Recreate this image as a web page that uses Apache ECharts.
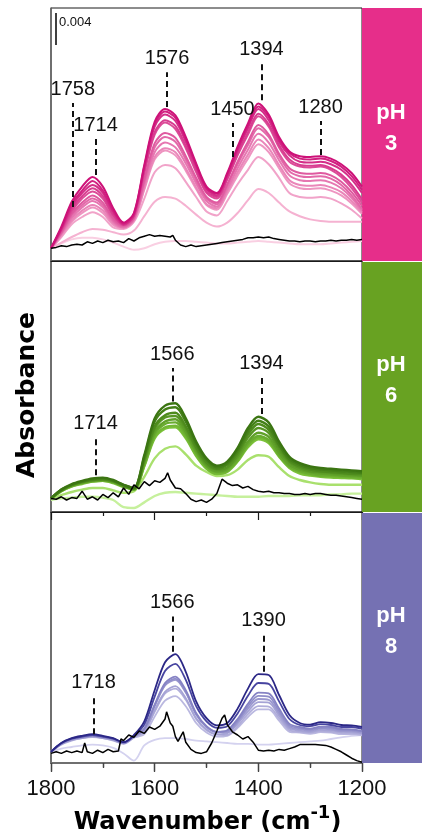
<!DOCTYPE html>
<html>
<head>
<meta charset="utf-8">
<title>IR spectra at pH 3, 6 and 8</title>
<script src="https://cdn.jsdelivr.net/npm/echarts/dist/echarts.min.js"></script>
<style>
  html, body { margin: 0; padding: 0; background: #ffffff; }
  #chart { width: 422px; height: 832px; }
</style>
</head>
<body>
<div id="chart"></div>
<script>
// Absorbance values are stored in units of 10^-3 (mAbs).
const wavenumbers = [1800,1780,1760,1740,1720,1700,1680,1660,1640,1620,1600,1580,1560,1540,1520,1500,1480,1460,1440,1420,1400,1380,1360,1340,1320,1300,1280,1260,1240,1220,1200];

// pH 3 spectra, latest (darkest) first
const ph3Spectra = [
  [1.6,4.3,7.4,9.3,10.5,9.3,6.6,4.8,6.0,12.0,17.4,19.0,18.2,15.5,12.2,9.3,8.5,11.0,14.3,17.2,19.7,18.3,15.5,13.7,13.1,13.0,13.1,12.8,12.1,11.0,9.3],
  [1.6,4.1,7.1,8.8,10.0,8.8,6.3,4.7,5.9,11.8,17.1,18.7,17.9,15.2,12.0,9.1,8.4,10.8,14.0,16.9,19.3,18.0,15.2,13.5,12.8,12.7,12.8,12.5,11.8,10.6,8.9],
  [1.6,4.0,6.8,8.5,9.5,8.5,6.1,4.6,5.7,11.6,16.8,18.3,17.5,14.9,11.8,9.0,8.2,10.6,13.8,16.6,19.0,17.6,14.9,13.2,12.4,12.3,12.4,12.1,11.4,10.2,8.5],
  [1.6,3.9,6.5,8.1,9.1,8.1,5.8,4.5,5.7,11.2,16.1,17.6,16.9,14.4,11.4,8.7,8.0,10.3,13.4,16.1,18.4,17.1,14.5,12.7,12.0,11.9,12.0,11.6,10.8,9.5,7.7],
  [1.6,3.8,6.2,7.8,8.7,7.8,5.6,4.5,5.6,11.0,15.8,17.3,16.5,14.1,11.1,8.5,7.8,10.2,13.2,15.8,18.1,16.8,14.2,12.4,11.8,11.7,11.8,11.4,10.5,9.1,7.3],
  [1.6,3.6,5.9,7.3,8.2,7.3,5.3,4.4,5.4,10.2,14.7,16.0,15.4,13.1,10.4,8.0,7.3,9.6,12.4,14.9,17.0,15.8,13.4,11.6,11.0,10.9,11.0,10.7,9.9,8.6,6.9],
  [1.6,3.5,5.7,7.0,7.8,7.0,5.1,4.3,5.3,9.9,14.2,15.5,14.9,12.7,10.1,7.8,7.1,9.4,12.1,14.5,16.6,15.5,13.1,11.2,10.6,10.5,10.6,10.3,9.5,8.2,6.5],
  [1.6,3.4,5.4,6.7,7.5,6.7,4.9,4.2,5.2,9.5,13.6,14.8,14.2,12.2,9.7,7.5,6.8,9.0,11.6,13.9,15.9,14.8,12.6,10.7,10.1,10.0,10.1,9.8,9.1,7.9,6.3],
  [1.6,3.3,5.1,6.3,7.0,6.3,4.7,4.2,5.1,9.1,13.0,14.1,13.6,11.6,9.2,7.1,6.6,8.7,11.1,13.3,15.2,14.1,12.0,10.1,9.5,9.4,9.5,9.2,8.6,7.5,6.1],
  [1.6,3.1,4.9,6.0,6.7,6.0,4.5,4.1,5.0,8.9,12.7,13.8,13.2,11.3,9.0,7.0,6.4,8.4,10.7,12.8,14.6,13.6,11.6,9.7,9.1,9.0,9.1,8.8,8.2,7.2,5.9],
  [1.6,3.0,4.6,5.5,6.1,5.5,4.2,4.0,4.9,7.8,11.1,12.0,11.6,9.9,8.0,6.2,5.7,7.5,9.6,11.4,13.0,12.1,10.4,8.5,8.0,7.9,8.0,7.8,7.2,6.4,5.3],
  [1.6,2.3,3.0,3.6,4.0,3.9,3.6,3.3,3.8,5.6,7.4,8.0,7.8,6.9,5.8,4.8,4.3,4.8,6.0,7.6,9.0,8.5,7.3,6.2,5.6,5.2,5.0,4.9,4.9,4.9,4.9],
  [1.6,2.2,2.7,2.9,2.9,2.7,2.3,1.8,1.4,1.6,2.1,2.4,2.5,2.5,2.4,2.3,2.2,2.2,2.3,2.4,2.5,2.4,2.3,2.2,2.1,2.1,2.1,2.2,2.3,2.4,2.5]
];
const ph3Control = [[1800,1.6],[1790,1.7],[1780,1.9],[1770,1.8],[1760,2.0],[1750,2.1],[1740,2.0],[1730,2.4],[1720,2.2],[1710,2.5],[1700,2.3],[1690,2.6],[1680,2.4],[1670,2.5],[1660,2.3],[1650,2.8],[1640,2.5],[1630,2.9],[1620,3.1],[1610,3.3],[1600,3.1],[1590,3.2],[1580,3.1],[1570,3.0],[1565,3.2],[1560,2.6],[1550,2.0],[1540,1.8],[1530,2.0],[1520,1.8],[1510,1.9],[1500,2.0],[1490,2.1],[1480,2.2],[1470,2.3],[1460,2.4],[1450,2.5],[1440,2.6],[1430,2.7],[1420,2.9],[1410,2.9],[1400,3.0],[1390,2.9],[1380,3.0],[1370,2.8],[1360,2.7],[1350,2.6],[1340,2.5],[1330,2.5],[1320,2.4],[1310,2.5],[1300,2.5],[1290,2.4],[1280,2.5],[1270,2.5],[1260,2.6],[1250,2.5],[1240,2.6],[1230,2.6],[1220,2.7],[1210,2.6],[1200,2.7]];
const ph3Peaks = [1758, 1714, 1576, 1450, 1394, 1280];

// pH 6 spectra, latest (darkest) first
const ph6Spectra = [
  [1.7,2.8,3.5,3.9,4.2,4.3,4.0,3.4,3.0,7.1,11.7,13.3,13.6,11.7,8.8,6.7,5.8,6.3,8.0,10.5,11.9,11.2,8.8,6.9,6.1,5.7,5.5,5.4,5.3,5.2,5.1],
  [1.7,2.8,3.4,3.8,4.1,4.2,3.9,3.4,3.0,6.9,11.3,12.8,13.1,11.3,8.5,6.5,5.6,6.1,7.7,10.1,11.4,10.7,8.4,6.6,5.9,5.5,5.3,5.2,5.1,5.0,4.9],
  [1.7,2.7,3.4,3.8,4.0,4.1,3.9,3.3,2.9,6.6,10.7,12.1,12.4,10.7,8.1,6.2,5.4,5.9,7.4,9.7,11.0,10.3,8.2,6.4,5.7,5.3,5.1,5.0,4.9,4.8,4.8],
  [1.7,2.7,3.4,3.7,4.0,4.1,3.8,3.3,2.9,6.4,10.4,11.8,12.0,10.4,7.9,6.0,5.3,5.6,7.1,9.3,10.5,9.9,7.8,6.2,5.5,5.1,5.0,4.9,4.8,4.7,4.6],
  [1.7,2.7,3.3,3.7,3.9,4.0,3.8,3.2,2.9,6.2,10.0,11.3,11.6,10.0,7.6,5.8,5.1,5.4,6.8,8.8,9.9,9.4,7.4,5.9,5.3,5.0,4.8,4.7,4.6,4.55,4.5],
  [1.7,2.7,3.3,3.6,3.9,4.0,3.7,3.2,2.8,6.0,9.7,11.0,11.2,9.7,7.4,5.7,5.0,5.2,6.5,8.5,9.5,9.0,7.1,5.7,5.1,4.8,4.6,4.6,4.5,4.4,4.3],
  [1.7,2.6,3.2,3.6,3.8,3.9,3.7,3.2,2.8,5.8,9.4,10.6,10.8,9.4,7.1,5.5,4.8,5.1,6.4,8.3,9.3,8.8,7.0,5.6,5.0,4.7,4.5,4.45,4.4,4.3,4.2],
  [1.7,2.6,3.2,3.5,3.8,3.9,3.6,3.1,2.8,5.7,9.2,10.4,10.6,9.2,7.0,5.4,4.75,5.0,6.3,8.1,9.1,8.6,6.9,5.5,4.8,4.55,4.4,4.3,4.25,4.2,4.1],
  [1.7,2.1,2.5,2.8,3.0,3.0,2.7,2.4,2.6,4.4,6.7,7.9,8.2,7.2,5.8,5.0,4.5,4.6,5.3,6.5,7.1,6.9,5.6,4.5,4.0,3.7,3.5,3.4,3.4,3.4,3.4],
  [1.5,1.7,1.8,1.9,1.9,1.8,1.5,0.6,0.5,1.2,2.0,2.4,2.5,2.4,2.3,2.2,2.1,2.0,1.9,1.9,1.9,2.0,2.0,2.0,2.1,2.1,2.1,2.2,2.2,2.3,2.3]
];
const ph6Control = [[1800,1.7],[1790,1.6],[1780,1.9],[1770,1.5],[1760,1.8],[1750,1.7],[1740,2.6],[1730,1.6],[1720,1.9],[1710,1.5],[1700,2.2],[1690,1.8],[1680,2.4],[1670,1.9],[1660,3.0],[1650,2.2],[1640,3.4],[1630,2.9],[1620,3.8],[1610,3.3],[1600,3.9],[1590,3.7],[1580,4.2],[1575,4.9],[1570,4.0],[1560,3.0],[1550,2.9],[1540,2.3],[1530,1.6],[1520,1.3],[1510,1.5],[1500,1.2],[1490,1.6],[1480,2.3],[1470,4.1],[1460,3.6],[1450,3.3],[1440,3.4],[1430,3.0],[1420,3.2],[1410,2.8],[1400,2.6],[1390,2.5],[1380,2.6],[1370,2.4],[1360,2.4],[1350,2.3],[1340,2.3],[1330,2.2],[1320,2.2],[1310,2.3],[1300,2.2],[1290,2.3],[1280,2.3],[1270,2.2],[1260,2.1],[1250,2.1],[1240,2.0],[1230,1.9],[1220,1.8],[1210,1.7],[1200,1.6]];
const ph6Peaks = [1714, 1566, 1394];

// pH 8 spectra, latest (darkest) first
const ph8Spectra = [
  [1.4,2.5,3.1,3.4,3.6,3.4,3.1,2.6,3.5,5.2,9.1,12.6,13.6,11.4,7.7,5.6,4.7,5.0,6.8,9.3,11.1,11.0,8.5,6.0,5.0,4.8,5.1,5.0,4.75,4.7,4.5],
  [1.4,2.5,3.05,3.3,3.5,3.3,3.05,2.6,3.4,4.8,8.3,11.5,12.4,10.4,7.1,5.2,4.4,4.6,6.2,8.4,10.0,9.9,7.7,5.5,4.75,4.6,4.85,4.75,4.5,4.5,4.3],
  [1.4,2.4,3.0,3.3,3.5,3.3,3.0,2.5,3.4,4.3,7.3,10.0,10.8,9.1,6.25,4.6,3.9,4.1,5.5,7.4,8.8,8.7,6.8,4.9,4.5,4.3,4.55,4.5,4.25,4.2,4.0],
  [1.4,2.4,3.0,3.2,3.4,3.2,3.0,2.5,3.3,4.25,7.2,9.8,10.55,8.9,6.1,4.55,3.9,4.0,5.3,7.1,8.4,8.3,6.5,4.7,4.35,4.2,4.4,4.35,4.15,4.1,3.95],
  [1.4,2.4,2.9,3.2,3.4,3.2,2.9,2.5,3.3,4.2,7.1,9.7,10.4,8.8,6.1,4.5,3.85,3.85,5.1,6.8,8.0,7.9,6.2,4.5,4.2,4.05,4.3,4.2,4.0,4.0,3.8],
  [1.4,2.4,2.9,3.15,3.3,3.15,2.9,2.45,3.25,3.95,6.6,8.9,9.6,8.1,5.6,4.2,3.6,3.7,4.9,6.45,7.6,7.55,5.9,4.3,4.05,3.9,4.15,4.05,3.9,3.85,3.7],
  [1.4,2.35,2.85,3.1,3.3,3.1,2.85,2.45,3.2,3.9,6.4,8.7,9.3,7.9,5.5,4.1,3.55,3.5,4.6,6.1,7.1,7.05,5.6,4.1,3.9,3.8,4.0,3.9,3.75,3.7,3.6],
  [1.4,2.3,2.8,3.1,3.25,3.1,2.8,2.4,3.15,3.6,5.8,7.8,8.35,7.1,5.0,3.8,3.3,3.4,4.4,5.75,6.7,6.7,5.3,3.9,3.8,3.65,3.85,3.8,3.6,3.6,3.45],
  [1.4,1.8,2.0,2.2,2.3,2.2,1.9,1.2,0.3,2.2,2.9,3.1,3.1,3.0,2.8,2.7,2.6,2.5,2.4,2.4,2.3,2.3,2.4,2.5,2.6,2.7,2.8,3.0,3.2,3.4,3.5]
];
const ph8Control = [[1800,1.2],[1790,1.4],[1780,1.2],[1770,1.5],[1760,1.3],[1750,1.5],[1740,1.3],[1735,2.5],[1730,1.4],[1720,1.2],[1710,1.6],[1700,1.3],[1690,1.7],[1680,1.4],[1670,1.5],[1665,3.0],[1660,2.8],[1650,3.5],[1640,3.2],[1630,4.0],[1620,3.7],[1610,4.5],[1600,4.2],[1590,4.6],[1580,5.5],[1577,6.4],[1570,5.0],[1565,4.6],[1560,3.3],[1555,2.7],[1550,3.3],[1545,3.9],[1540,2.6],[1530,1.7],[1520,1.3],[1510,1.2],[1500,1.4],[1490,2.5],[1480,4.0],[1470,5.6],[1465,6.0],[1460,4.8],[1450,3.9],[1440,3.5],[1430,3.0],[1420,3.3],[1410,2.6],[1400,1.6],[1390,1.5],[1380,1.6],[1370,1.5],[1360,1.7],[1350,1.6],[1340,1.8],[1330,2.0],[1320,2.3],[1310,2.3],[1300,2.3],[1290,2.3],[1280,2.25],[1270,2.2],[1260,2.0],[1250,1.7],[1240,1.4],[1230,1.0],[1220,0.6],[1210,0.3],[1200,0.1]];
const ph8Peaks = [1718, 1566, 1390];

const panelLabels = ['pH\n3', 'pH\n6', 'pH\n8'];
const xTickLabels = [1800, 1600, 1400, 1200];
const scaleBarValue = 4;      // 0.004 absorbance
const scaleBarPosition = 1790; // wavenumber of the scale bar

// ---- layout and styles ----
const layout = {
  left: 51, plotWidth: 311, barWidth: 60, pxPerUnit: 8,
  panels: [{ top: 8, height: 253 }, { top: 261, height: 251 }, { top: 512, height: 251 }],
  // vertical extent (in absorbance units) of the dashed peak markers
  dashSpans: [
    [[6.75, 19.75], [10.75, 15.25], [19.25, 23.6], [13.0, 17.25], [20.1, 24.75], [13.25, 17.5]],
    [[4.6, 9.3], [13.8, 18.0], [12.25, 16.8]],
    [[3.6, 8.3], [13.9, 18.3], [11.4, 16.1]]
  ],
  scaleBarTop: 31.0
};
const barColors = ['#e62e8a', '#68a222', '#7571b3'];

function hexToRgb(h) {
  const n = parseInt(h.slice(1), 16);
  return [(n >> 16) & 255, (n >> 8) & 255, n & 255];
}
function mix(a, b, t) {
  const A = hexToRgb(a), B = hexToRgb(b);
  const c = A.map((v, i) => Math.round(v + (B[i] - v) * t));
  return 'rgb(' + c.join(',') + ')';
}
function ramp(dark, light, n) {
  const out = [];
  for (let i = 0; i < n; i++) out.push(mix(dark, light, n === 1 ? 0 : i / (n - 1)));
  return out;
}
const palettes = [
  ramp('#cd1178', '#f5b2d1', 12).concat(['#f9cfe2']),
  ramp('#3b7512', '#7cc23a', 8).concat(['#a9e06d', '#c6f09c']),
  ['#2b2786', '#4744a0'].concat(ramp('#8683c4', '#bab8e0', 6)).concat(['#d4d2ef'])
];
const lineWidths = [2.0, 2.4, 1.8];

const spectraSets = [ph3Spectra, ph6Spectra, ph8Spectra];
const controlSets = [ph3Control, ph6Control, ph8Control];
const peakSets = [ph3Peaks, ph6Peaks, ph8Peaks];

const labelFont = 'Liberation Sans, Arial, Helvetica, sans-serif';
const titleFont = 'DejaVu Sans, Verdana, sans-serif';

const grids = layout.panels.map(p => ({
  left: layout.left, top: p.top, width: layout.plotWidth, height: p.height,
  show: true, borderColor: '#1a1a1a', borderWidth: 1, containLabel: false
}));

const baseX = {
  type: 'value', min: 1200, max: 1800, interval: 200, inverse: true,
  splitLine: { show: false }, axisLabel: { show: false }
};
const xAxes = [
  Object.assign({}, baseX, { gridIndex: 0, position: 'top',
    axisLine: { show: true, lineStyle: { color: '#1a1a1a', width: 1 } }, axisTick: { show: false } }),
  Object.assign({}, baseX, { gridIndex: 1, position: 'top',
    axisLine: { show: true, lineStyle: { color: '#1a1a1a', width: 1.2 } },
    axisTick: { show: true, inside: true, length: 8, lineStyle: { color: '#1a1a1a', width: 1.2 } },
    minorTick: { show: true, splitNumber: 2, length: 4, lineStyle: { color: '#1a1a1a', width: 1.2 } } }),
  Object.assign({}, baseX, { gridIndex: 2, position: 'top',
    axisLine: { show: true, lineStyle: { color: '#1a1a1a', width: 1.2 } },
    axisTick: { show: true, inside: true, length: 8, lineStyle: { color: '#1a1a1a', width: 1.2 } },
    minorTick: { show: true, splitNumber: 2, length: 4, lineStyle: { color: '#1a1a1a', width: 1.2 } } }),
  Object.assign({}, baseX, { gridIndex: 2, position: 'bottom',
    axisLine: { show: true, lineStyle: { color: '#6f6f6f', width: 2 } },
    axisTick: { show: true, inside: false, length: 9, lineStyle: { color: '#444', width: 1.3 } },
    minorTick: { show: true, splitNumber: 2, length: 5, lineStyle: { color: '#444', width: 1.3 } },
    axisLabel: { show: true, margin: 15, color: '#111', fontSize: 22, fontFamily: labelFont,
      formatter: v => (xTickLabels.indexOf(v) >= 0 ? String(v) : '') } })
];

const yAxes = layout.panels.map((p, i) => ({
  type: 'value', gridIndex: i, min: 0, max: p.height / layout.pxPerUnit,
  axisLabel: { show: false }, axisTick: { show: false }, splitLine: { show: false },
  axisLine: { show: true, lineStyle: { color: '#666', width: 1.5 } }
}));

const series = [];
spectraSets.forEach((set, k) => {
  const cols = palettes[k];
  // draw lightest first so darker traces sit on top
  for (let j = set.length - 1; j >= 0; j--) {
    series.push({
      type: 'line', xAxisIndex: k, yAxisIndex: k, silent: true,
      showSymbol: false, symbol: 'none', smooth: 0.3,
      data: wavenumbers.map((w, i) => [w, set[j][i]]),
      lineStyle: { color: cols[j], width: lineWidths[k] },
      z: 2
    });
  }
  const marks = peakSets[k].map((p, i) => [
    { name: String(p), coord: [p, layout.dashSpans[k][i][0]] },
    { coord: [p, layout.dashSpans[k][i][1]] }
  ]);
  if (k === 0) {
    marks.push([
      { name: '', coord: [scaleBarPosition, layout.scaleBarTop - scaleBarValue],
        lineStyle: { type: 'solid', width: 1.5, color: '#000' }, label: { show: false } },
      { coord: [scaleBarPosition, layout.scaleBarTop] }
    ]);
  }
  series.push({
    type: 'line', xAxisIndex: k, yAxisIndex: k, silent: true,
    showSymbol: false, symbol: 'none', smooth: false,
    data: controlSets[k],
    lineStyle: { color: '#000', width: 1.5 },
    z: 3,
    markLine: {
      silent: true, symbol: ['none', 'none'], animation: false, precision: 0,
      lineStyle: { type: [6, 4], color: '#111', width: 2 },
      label: { show: true, position: 'end', distance: 4, formatter: p => p.name,
        color: '#111', fontSize: 20, fontFamily: labelFont },
      emphasis: { disabled: true },
      data: marks
    }
  });
});

const graphics = [];
layout.panels.forEach((p, i) => {
  graphics.push({
    type: 'rect', left: layout.left + layout.plotWidth, top: p.top + (i === 0 ? 0 : 1),
    shape: { width: layout.barWidth, height: p.height - (i === 0 ? 0 : 1) },
    style: { fill: barColors[i] }, silent: true, z: 1
  });
  graphics.push({
    type: 'text', x: layout.left + layout.plotWidth + layout.barWidth / 2 - 1, y: p.top + p.height / 2 - 6,
    style: { text: panelLabels[i], fill: '#fff', font: 'bold 22px ' + labelFont,
      textAlign: 'center', textVerticalAlign: 'middle', lineHeight: 31 },
    silent: true, z: 5
  });
});
// scale bar caption
graphics.push({
  type: 'text', x: layout.left + 8, y: 22,
  style: { text: (scaleBarValue / 1000).toFixed(3), fill: '#111', font: '13px ' + labelFont,
    textAlign: 'left', textVerticalAlign: 'middle' },
  silent: true, z: 5
});
// axis titles
graphics.push({
  type: 'text', x: 27, y: 395, rotation: Math.PI / 2,
  style: { text: 'Absorbance', fill: '#000', font: 'bold 25px ' + titleFont,
    textAlign: 'center', textVerticalAlign: 'middle' },
  silent: true, z: 5
});
graphics.push({
  type: 'text', x: layout.left + layout.plotWidth / 2 + 1, y: 820,
  style: {
    text: '{t|Wavenumber (cm}{s|-1}{t|)}',
    textAlign: 'center', textVerticalAlign: 'middle',
    rich: {
      t: { fontSize: 24, fontWeight: 'bold', fontFamily: titleFont, color: '#000', verticalAlign: 'bottom', lineHeight: 29 },
      s: { fontSize: 18, fontWeight: 'bold', fontFamily: titleFont, color: '#000', verticalAlign: 'bottom', padding: [0, 0, 12, 0], lineHeight: 19 }
    }
  },
  silent: true, z: 5
});

const chart = echarts.init(document.getElementById('chart'), null, { renderer: 'canvas' });
chart.setOption({
  animation: false,
  backgroundColor: '#ffffff',
  grid: grids,
  xAxis: xAxes,
  yAxis: yAxes,
  series: series,
  graphic: graphics
});
</script>
</body>
</html>
